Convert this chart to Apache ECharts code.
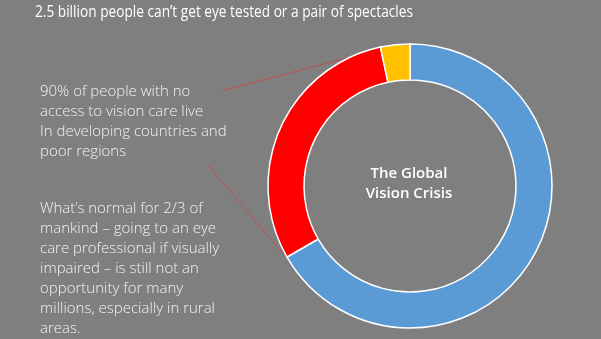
<!DOCTYPE html>
<html><head><meta charset="utf-8">
<script src="https://cdn.jsdelivr.net/npm/echarts@6/dist/echarts.min.js"></script>
<style>html,body{margin:0;padding:0;background:#7f7f7f;}#c{width:601px;height:339px;}</style>
</head><body><div id="c"></div>
<script>
const categories = ['Access to vision care', 'No access – developing countries and poor regions', 'No access – other'];
const values = [5.0, 2.25, 0.25];
const colors = ['#5b9bd5', '#ff0000', '#ffc000'];
const titleText = '2.5 billion people can’t get eye tested or a pair of spectacles';
const centerText = 'The Global\nVision Crisis';
const note1 = ['90% of people with no', 'access to vision care live', 'In developing countries and', 'poor regions'];
const note2 = ['What’s normal for 2/3 of', 'mankind – going to an eye', 'care professional if visually', 'impaired – is still not an', 'opportunity for many', 'millions, especially in rural', 'areas.'];

const font = '"Open Sans", sans-serif';
const chart = echarts.init(document.getElementById('c'), null, {renderer: 'canvas'});
const textEls = [];
note1.forEach((t, i) => textEls.push({type: 'text', x: 40, y: 92 + i * 20, style: {text: t, fill: '#f2f2f2', font: '300 15px ' + font, verticalAlign: 'middle'}}));
note2.forEach((t, i) => textEls.push({type: 'text', x: 40, y: 209 + i * 20, style: {text: t, fill: '#f2f2f2', font: '300 15px ' + font, verticalAlign: 'middle'}}));
chart.setOption({
  backgroundColor: '#7f7f7f',
  animation: false,
  graphic: textEls.concat([
    {type: 'text', x: 35, y: 12, scaleX: 0.855, style: {text: titleText, fill: '#ffffff', font: '16px ' + font, verticalAlign: 'middle'}},
    {type: 'line', shape: {x1: 221, y1: 91, x2: 347, y2: 58}, style: {stroke: '#c0504d', lineWidth: 1}},
    {type: 'line', shape: {x1: 208, y1: 165, x2: 286, y2: 257}, style: {stroke: '#c0504d', lineWidth: 1}},
    {type: 'text', x: 409, y: 184, style: {text: centerText, fill: '#ffffff', font: '600 15px ' + font, align: 'center', verticalAlign: 'middle', lineHeight: 20}}
  ]),
  series: [{
    type: 'pie',
    center: [410, 186],
    radius: [106, 142],
    startAngle: 90,
    clockwise: true,
    label: {show: false},
    labelLine: {show: false},
    itemStyle: {borderColor: '#ffffff', borderWidth: 1.5},
    data: categories.map((c, i) => ({name: c, value: values[i], itemStyle: {color: colors[i]}}))
  }]
});
</script></body></html>
